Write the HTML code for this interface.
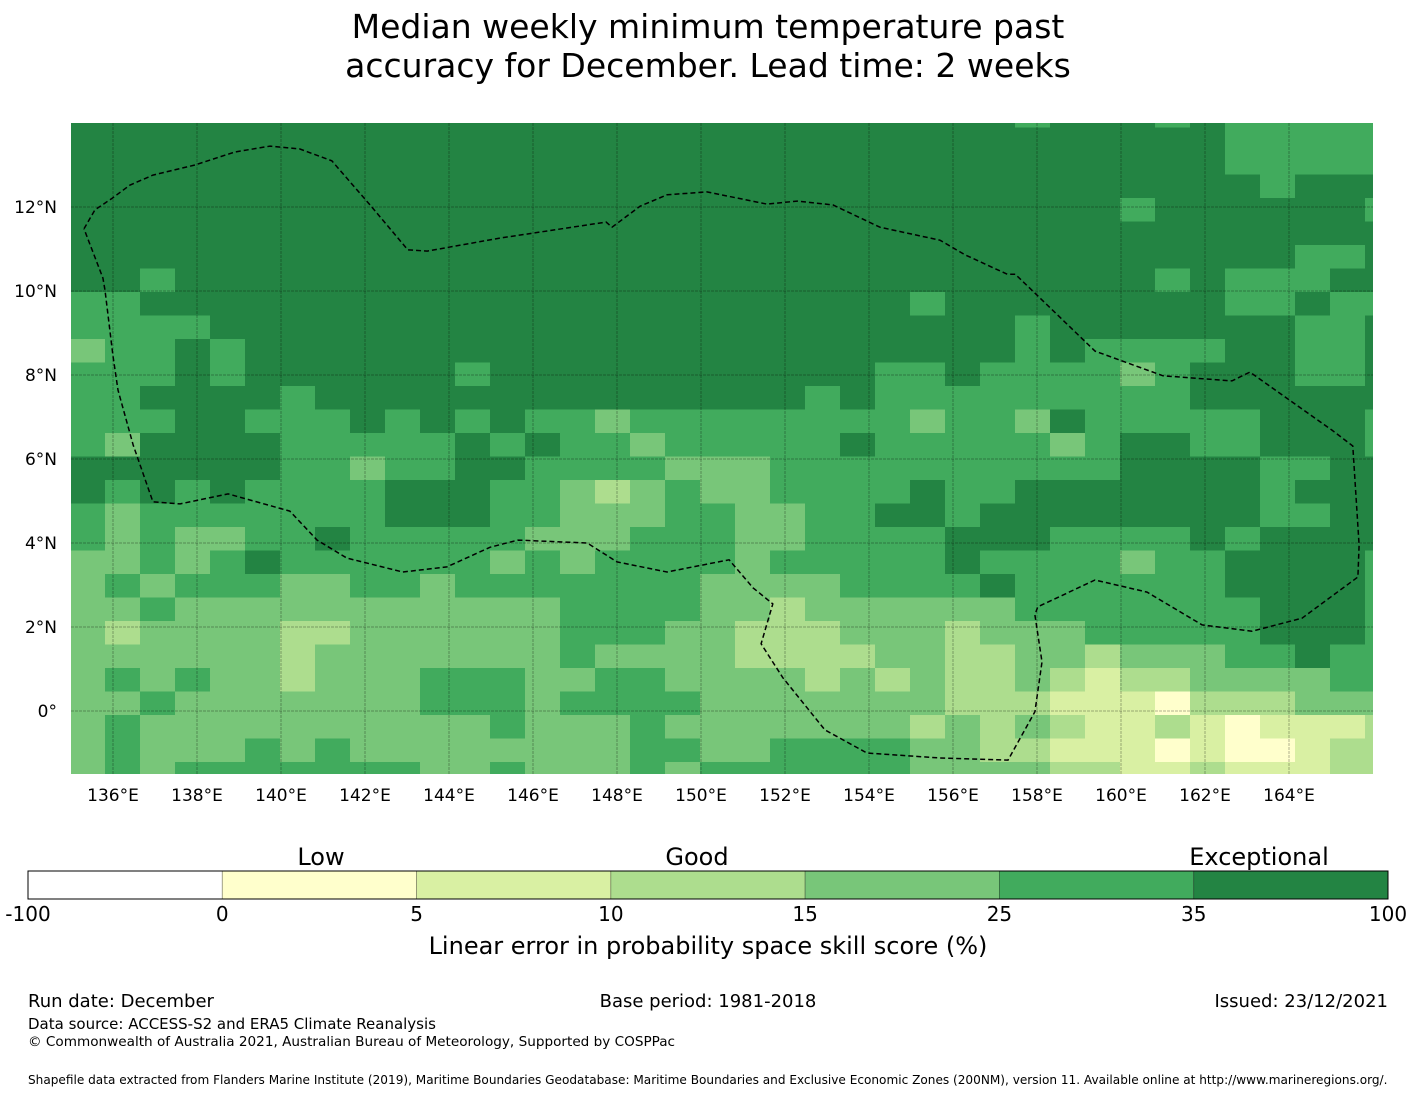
<!DOCTYPE html>
<html><head><meta charset="utf-8"><style>
body{margin:0;background:#fff;width:1416px;height:1095px;overflow:hidden;font-family:"DejaVu Sans","Liberation Sans",sans-serif}
svg{display:block}
</style></head><body>
<svg id="chart" width="1416" height="1095" xmlns="http://www.w3.org/2000/svg" font-family="DejaVu Sans, Liberation Sans, sans-serif">
<g font-size="33" text-anchor="middle" fill="#000">
<text x="708" y="38">Median weekly minimum temperature past</text>
<text x="708" y="77">accuracy for December. Lead time: 2 weeks</text>
</g>
<defs><clipPath id="mapclip"><rect x="71" y="123" width="1302" height="651"/></clipPath></defs>
<g id="cells" clip-path="url(#mapclip)"></g>
<g id="grid" clip-path="url(#mapclip)"></g>
<polyline id="eez" fill="none" stroke="#000" stroke-width="1.5" stroke-dasharray="5,3" clip-path="url(#mapclip)"/>
<g id="xticks" font-size="17" text-anchor="middle"></g>
<g id="yticks" font-size="17" text-anchor="end"></g>
<g id="cbar"></g>
<g font-size="24" text-anchor="middle">
<text x="321" y="865">Low</text><text x="697" y="865">Good</text><text x="1259" y="865">Exceptional</text>
</g>
<text x="708" y="954" font-size="24" text-anchor="middle">Linear error in probability space skill score (%)</text>
<g fill="#000">
<text x="28" y="1007" font-size="18">Run date: December</text>
<text x="708" y="1007" font-size="18" text-anchor="middle">Base period: 1981-2018</text>
<text x="1388" y="1007" font-size="18" text-anchor="end">Issued: 23/12/2021</text>
<text x="28" y="1029" font-size="15">Data source: ACCESS-S2 and ERA5 Climate Reanalysis</text>
<text x="28" y="1046" font-size="13.6">© Commonwealth of Australia 2021, Australian Bureau of Meteorology, Supported by COSPPac</text>
<text x="28" y="1084" font-size="12.1">Shapefile data extracted from Flanders Marine Institute (2019), Maritime Boundaries Geodatabase: Maritime Boundaries and Exclusive Economic Zones (200NM), version 11. Available online at http://www.marineregions.org/.</text>
</g>
</svg>
<script>
// skill class per cell (0..6), rows north->south, 38 columns west->east
const rowsData = [
"66666666666666666666666666656665655555",
"66666666666666666666666666666666655555",
"66666666666666666666666666666666655555",
"66666666666666666666666666666666665666",
"66666666666666666666666666666656666665",
"66666666666666666666666666666666666666",
"66666666666666666666666666666666666556",
"66566666666666666666666666666665655566",
"55666666666666666666666656666666655655",
"55556666666666666666666666656666666556",
"45565666666666666666666666656555566556",
"55565666666566666666666556555545666556",
"55666656666666666666656555555555666666",
"55566555656565545555555545546555556665",
"54666655555656554555556555554566556665",
"66666655455665555444555555555566665566",
"65656555566655434544555565566666665666",
"54555555566655444554455665666666665566",
"54544556555554445554455556665555656666",
"44545655555545455554555556555545566665",
"45455544554555555544445555655555566665",
"44544444444444555544344444455555556665",
"43444433444444555443334443444555556665",
"44444434444444544443333443344344455655",
"45454434445554455444434343343233444455",
"44544444445554555544444443332221333444",
"45444444444454445444444434343223212223",
"45444545444444445544555544332221211233",
"45455555554454445455555544443322322233"
];
const lonTicks = [136,138,140,142,144,146,148,150,152,154,156,158,160,162,164];
const latTicks = [12,10,8,6,4,2,0];
const cbarBounds = ["-100","0","5","10","15","25","35","100"];
const classColors = ["#ffffff","#ffffcc","#d9f0a3","#addd8e","#78c679","#41ab5d","#238443"];
const eezLon = [135.31,135.57,135.98,136.40,136.95,137.95,138.90,139.74,140.45,141.21,142.12,143.02,143.48,145.21,147.74,147.88,148.55,149.19,150.14,151.57,152.29,153.14,154.26,155.69,156.29,157.29,157.48,157.95,159.38,161.00,162.64,163.07,165.02,165.52,165.67,165.64,164.31,163.12,161.93,160.62,159.38,158.02,157.95,158.12,157.95,157.31,155.69,153.95,152.95,151.95,151.43,151.71,151.24,150.67,149.19,148.00,147.29,145.64,144.98,143.95,142.90,141.57,140.86,140.21,138.74,137.60,136.95,136.48,136.12,136.00,135.81,135.76,135.31];
const eezLat = [11.48,11.93,12.21,12.52,12.76,13.00,13.31,13.45,13.38,13.10,12.05,10.98,10.95,11.26,11.64,11.52,12.02,12.29,12.36,12.07,12.14,12.05,11.52,11.21,10.86,10.40,10.40,9.95,8.57,7.98,7.86,8.07,6.69,6.31,3.95,3.19,2.21,1.90,2.05,2.83,3.12,2.48,2.29,1.17,-0.02,-1.17,-1.12,-1.00,-0.45,0.79,1.60,2.55,2.93,3.60,3.31,3.55,4.00,4.07,3.90,3.43,3.31,3.64,4.07,4.76,5.17,4.93,4.98,6.33,7.64,8.45,10.02,10.31,11.48];
</script>
<script>
const NS="http://www.w3.org/2000/svg";
const X0=71, PXD=42, Y0=711; // x at 135E, y at 0
function xOf(lon){return X0+(lon-135)*PXD;}
function yOf(lat){return Y0-lat*PXD;}
const cellW=35, cellH=23.5, cellX0=70, cellY0=104;
const cells=document.getElementById('cells');
rowsData.forEach((row,r)=>{
  for(let c=0;c<row.length;c++){
    const rect=document.createElementNS(NS,'rect');
    rect.setAttribute('x',cellX0+c*cellW);
    rect.setAttribute('y',cellY0+r*cellH);
    rect.setAttribute('width',cellW+0.4);
    rect.setAttribute('height',cellH+0.4);
    rect.setAttribute('fill',classColors[+row[c]]);
    
    
    cells.appendChild(rect);
  }
});
const grid=document.getElementById('grid');
lonTicks.forEach(l=>{
  const ln=document.createElementNS(NS,'line');
  ln.setAttribute('x1',xOf(l));ln.setAttribute('x2',xOf(l));
  ln.setAttribute('y1',123);ln.setAttribute('y2',774);
  ln.setAttribute('stroke','rgba(0,0,0,0.3)');ln.setAttribute('stroke-width','1');ln.setAttribute('stroke-dasharray','3,1');
  
  
  grid.appendChild(ln);
  const t=document.createElementNS(NS,'text');
  t.setAttribute('x',xOf(l));t.setAttribute('y',801);t.textContent=l+'°E';
  
  
  document.getElementById('xticks').appendChild(t);
});
latTicks.forEach(l=>{
  const ln=document.createElementNS(NS,'line');
  ln.setAttribute('y1',yOf(l));ln.setAttribute('y2',yOf(l));
  ln.setAttribute('x1',71);ln.setAttribute('x2',1373);
  ln.setAttribute('stroke','rgba(0,0,0,0.3)');ln.setAttribute('stroke-width','1');ln.setAttribute('stroke-dasharray','3,1');
  
  
  grid.appendChild(ln);
  const t=document.createElementNS(NS,'text');
  t.setAttribute('x',57);t.setAttribute('y',yOf(l)+6);t.textContent=l===0?'0°':l+'°N';
  
  
  document.getElementById('yticks').appendChild(t);
});
document.getElementById('eez').setAttribute('points',eezLon.map((lo,i)=>xOf(lo).toFixed(1)+','+yOf(eezLat[i]).toFixed(1)).join(' '));
const cb=document.getElementById('cbar');
const cbX=28, cbW=1360, cbY=871, cbH=28, segW=cbW/(cbarBounds.length-1);
for(let i=0;i<cbarBounds.length-1;i++){
  const r=document.createElementNS(NS,'rect');
  r.setAttribute('x',cbX+i*segW);r.setAttribute('y',cbY);r.setAttribute('width',segW);r.setAttribute('height',cbH);
  r.setAttribute('fill',classColors[i]);r.setAttribute('stroke','#000');r.setAttribute('stroke-opacity','0.35');r.setAttribute('stroke-width','0.8');
  
  
  cb.appendChild(r);
}
const outline=document.createElementNS(NS,'rect');
outline.setAttribute('x',cbX);outline.setAttribute('y',cbY);outline.setAttribute('width',cbW);outline.setAttribute('height',cbH);
outline.setAttribute('fill','none');outline.setAttribute('stroke','#000');outline.setAttribute('stroke-width','1');


cb.appendChild(outline);
cbarBounds.forEach((b,i)=>{
  const t=document.createElementNS(NS,'text');
  t.setAttribute('x',cbX+i*segW);t.setAttribute('y',921);t.setAttribute('font-size','20');t.setAttribute('text-anchor','middle');
  t.textContent=b;
  
  
  cb.appendChild(t);
});
</script>
</body></html>
